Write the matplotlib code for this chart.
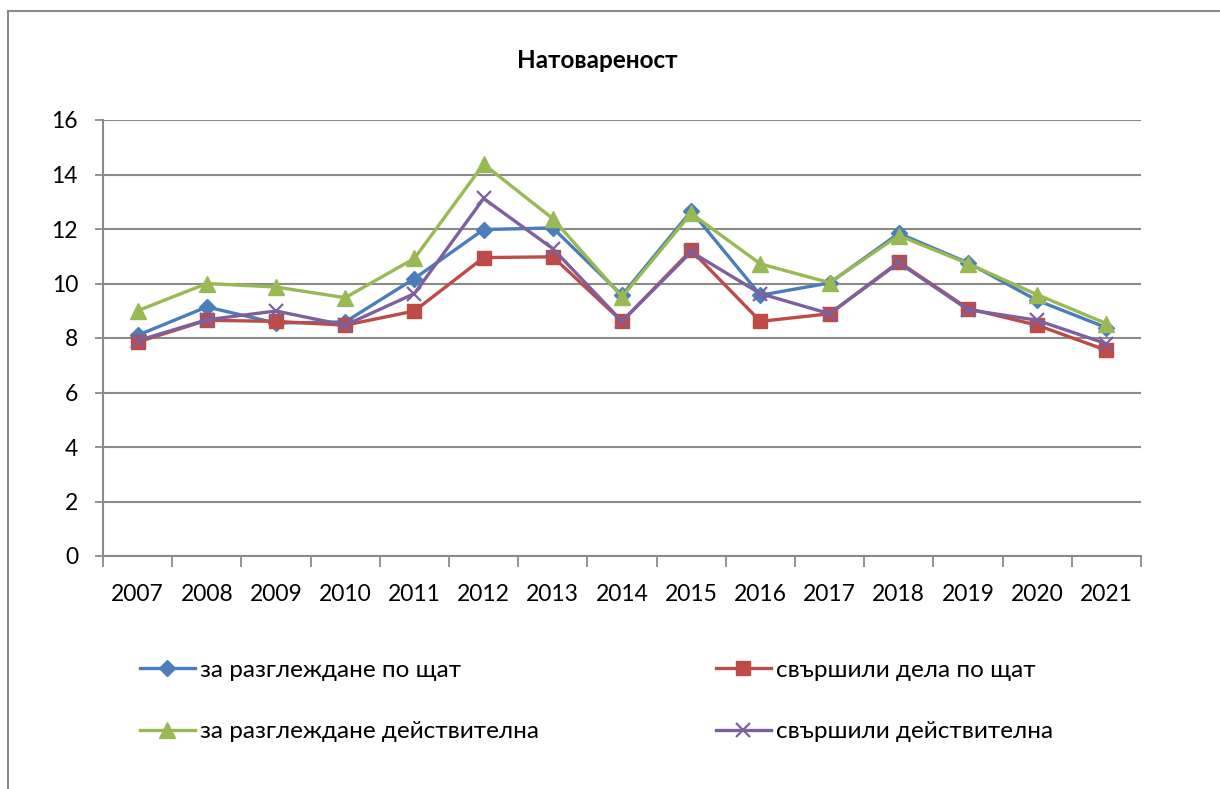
import matplotlib
matplotlib.use('Agg')
from matplotlib import pyplot as plt
from matplotlib.patches import Rectangle

years = ['2007', '2008', '2009', '2010', '2011', '2012', '2013', '2014',
         '2015', '2016', '2017', '2018', '2019', '2020', '2021']

razgl_shtat = [8.1, 9.14, 8.55, 8.59, 10.18, 11.98, 12.04, 9.57,
               12.66, 9.57, 10.02, 11.84, 10.76, 9.38, 8.38]
svarsh_shtat = [7.85, 8.65, 8.61, 8.47, 8.99, 10.95, 10.98, 8.61,
                11.22, 8.61, 8.89, 10.79, 9.08, 8.47, 7.55]
razgl_deistv = [9.0, 10.0, 9.87, 9.48, 10.92, 14.38, 12.38, 9.51,
                12.57, 10.72, 10.03, 11.76, 10.73, 9.59, 8.53]
svarsh_deistv = [7.9, 8.67, 8.99, 8.47, 9.63, 13.12, 11.28, 8.61,
                 11.16, 9.63, 8.89, 10.76, 9.04, 8.65, 7.79]

title = 'Натовареност'
labels = ['за разглеждане по щат', 'свършили дела по щат',
          'за разглеждане действителна', 'свършили действителна']

plt.rcParams['font.family'] = ['Lato', 'DejaVu Sans']

fig = plt.figure(figsize=(12.2, 7.89), dpi=100)
ax = fig.add_axes([103 / 1220, 1 - 556 / 789, (1141 - 103) / 1220, (556 - 120) / 789])

# outer chart border (runs off the right and bottom edge)
fig.patches.append(Rectangle((8 / 1220, -0.05), 1.1, 1 - 11 / 789 + 0.05,
                             transform=fig.transFigure, fill=False,
                             edgecolor='#8a8a8a', linewidth=1.5))

x = list(range(len(years)))
lw = 2.4
l1, = ax.plot(x, razgl_shtat, color='#4A7EBB', lw=lw, marker='D', ms=8.5, label=labels[0])
l2, = ax.plot(x, svarsh_shtat, color='#BE4B48', lw=lw, marker='s', ms=10, label=labels[1])
l3, = ax.plot(x, razgl_deistv, color='#98B954', lw=lw, marker='^', ms=11, label=labels[2])
l4, = ax.plot(x, svarsh_deistv, color='#7D60A0', lw=lw, marker='x', ms=10, mew=1.6, label=labels[3])

ax.set_xlim(-0.5, len(years) - 0.5)
ax.set_ylim(0, 16)
ax.set_yticks(range(0, 17, 2))
ax.set_xticks([i - 0.5 for i in range(len(years) + 1)])
ax.set_xticklabels([])
ax.set_xticks(x, minor=True)
ax.set_xticklabels(years, minor=True)
ax.tick_params(axis='x', which='major', length=8, width=1.3, color='#8a8a8a', direction='out')
ax.tick_params(axis='x', which='minor', length=0, pad=20, labelsize=16.5)
ax.tick_params(axis='y', length=6, width=1.3, color='#8a8a8a', pad=12, labelsize=16.5)

ax.grid(axis='y', color='#8a8a8a', linewidth=1.5)
ax.set_axisbelow(True)
for side in ['top', 'right']:
    ax.spines[side].set_visible(False)
for side in ['left', 'bottom']:
    ax.spines[side].set_color('#8a8a8a')
    ax.spines[side].set_linewidth(1.5)

fig.text(597 / 1220, 1 - 60 / 789, title, ha='center', va='center',
         fontsize=17.5, fontweight='bold')

leg_kw = dict(loc='center left', frameon=False, fontsize=17.5, handlelength=2.25,
              handletextpad=0.2, labelspacing=1.65, borderpad=0, borderaxespad=0,
              numpoints=1)
fig.legend([l1, l3], [labels[0], labels[2]], bbox_to_anchor=(140 / 1220, 1 - 701 / 789), **leg_kw)
fig.legend([l2, l4], [labels[1], labels[3]], bbox_to_anchor=(716 / 1220, 1 - 701 / 789), **leg_kw)

plt.savefig('out.png', dpi=100)
